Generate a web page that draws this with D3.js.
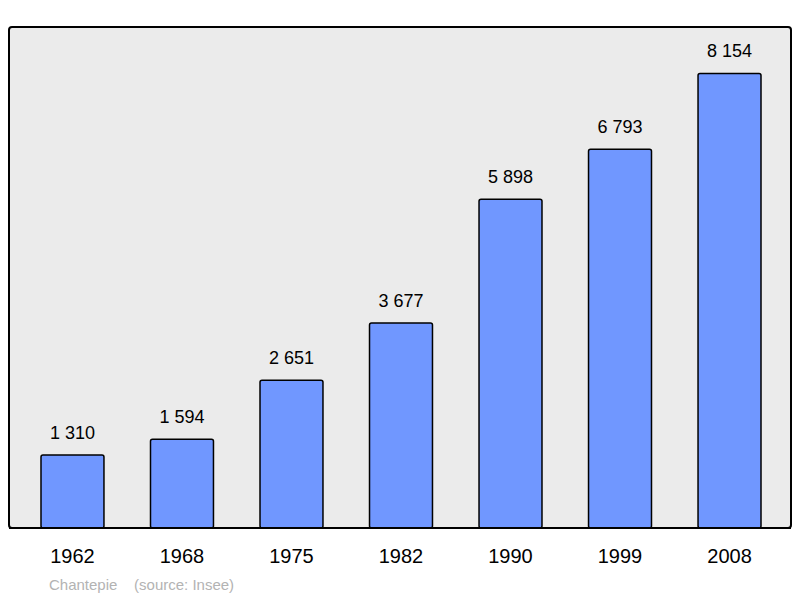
<!DOCTYPE html>
<html>
<head>
<meta charset="utf-8">
<script src="https://cdn.jsdelivr.net/npm/d3@7"></script>
<style>body{margin:0;background:#fff;}</style>
</head>
<body>
<svg id="chart" width="800" height="598"></svg>
<script>
const years = ['1962', '1968', '1975', '1982', '1990', '1999', '2008'];
const population = [1310, 1594, 2651, 3677, 5898, 6793, 8154];

const width = 800;
const height = 598;
const svg = d3.select('#chart');
const fmt = d3.formatLocale({ decimal: ',', thousands: '\u00a0', grouping: [3], currency: ['', ''] }).format(',d');

// plot background
svg.append('rect')
    .attr('x', 9).attr('y', 27)
    .attr('width', 782).attr('height', 501)
    .attr('rx', 3)
    .attr('fill', '#ebebeb')
    .attr('stroke', '#000')
    .attr('stroke-width', 2);

const x = d3.scaleBand()
    .domain(years)
    .range([18, 784])
    .paddingInner(0.425)
    .paddingOuter(0.21);

const y = d3.scaleLinear()
    .domain([0, d3.max(population) * 1.1])
    .range([528, 28]);

const data = years.map((yr, i) => ({ year: yr, value: population[i] }));

svg.selectAll('.bar')
    .data(data)
    .enter().append('rect')
    .attr('class', 'bar')
    .attr('x', d => x(d.year))
    .attr('y', d => y(d.value))
    .attr('width', x.bandwidth())
    .attr('height', d => y(0) - y(d.value))
    .attr('rx', 2)
    .attr('fill', '#7097ff')
    .attr('stroke', '#000')
    .attr('stroke-width', 1.5);

svg.selectAll('.val')
    .data(data)
    .enter().append('text')
    .attr('x', d => x(d.year) + x.bandwidth() / 2)
    .attr('y', d => y(d.value) - 16)
    .attr('text-anchor', 'middle')
    .style('font-family', 'Liberation Sans, Arial, sans-serif')
    .style('font-size', '18px')
    .text(d => fmt(d.value));

// baseline
svg.append('line')
    .attr('x1', 9).attr('x2', 791)
    .attr('y1', 528).attr('y2', 528)
    .attr('stroke', '#000').attr('stroke-width', 2);

svg.selectAll('.yr')
    .data(years)
    .enter().append('text')
    .attr('x', d => x(d) + x.bandwidth() / 2)
    .attr('y', 563)
    .attr('text-anchor', 'middle')
    .style('font-family', 'Liberation Sans, Arial, sans-serif')
    .style('font-size', '20px')
    .text(d => d);

svg.append('text')
    .attr('x', 49)
    .attr('y', 590)
    .attr('xml:space', 'preserve')
    .style('white-space', 'pre')
    .style('font-family', 'Liberation Sans, Arial, sans-serif')
    .style('font-size', '15px')
    .attr('fill', '#b3b3b3')
    .text('Chantepie    (source: Insee)');
</script>
</body>
</html>
